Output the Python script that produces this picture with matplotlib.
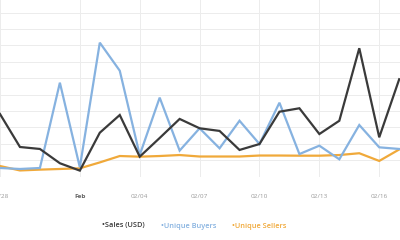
import matplotlib
matplotlib.use("Agg")
import matplotlib.pyplot as plt
import matplotlib.dates as mdates
import pandas as pd

plt.rcParams['font.family'] = ['Open Sans', 'DejaVu Sans']

dates = pd.date_range("2016-01-28", "2016-02-17", freq="D")
sales = [38.2, 18.1, 16.9, 8.2, 3.7, 26.8, 37.6, 12.2, 23.6, 35.2, 29.5,
         27.9, 16.3, 19.9, 39.6, 41.7, 26.0, 34.1, 78.3, 24.0, 59.4]
buyers = [5.3, 4.7, 5.3, 57.3, 5.7, 81.7, 64.6, 13.2, 48.2, 15.9, 29.5,
          17.3, 34.1, 19.9, 45.1, 13.8, 18.9, 10.6, 31.5, 17.9, 16.9]
sellers = [6.5, 3.8, 4.3, 4.7, 5.1, 8.7, 12.6, 12.2, 12.6, 13.2, 12.3,
           12.3, 12.3, 12.9, 12.9, 12.8, 12.8, 13.2, 14.3, 9.6, 16.6]
tick_dates = ["2016-01-28", "2016-02-01", "2016-02-04", "2016-02-07",
              "2016-02-10", "2016-02-13", "2016-02-16"]
tick_labels = ["01/28", "Feb", "02/04", "02/07", "02/10", "02/13", "02/16"]
series_names = ["Sales (USD)", "Unique Buyers", "Unique Sellers"]
colors = ["#3a3a3a", "#86b2e0", "#f0a93a"]

fig = plt.figure(figsize=(4.0, 2.4), dpi=100)
ax = fig.add_axes([0.0, 0.2638, 1.0, 0.7362])

x = mdates.date2num(dates)
feb1 = mdates.date2num(pd.Timestamp("2016-02-01"))
ax.set_xlim(feb1 - 3.716, feb1 + 16.04)
ax.set_ylim(0, 107.7)

for vals, c in zip([sellers, buyers, sales], [colors[2], colors[1], colors[0]]):
    ax.plot(x, vals, color=c, lw=1.6, solid_joinstyle='miter', zorder=3)

ax.set_yticks(range(0, 110, 10))
ax.set_xticks(mdates.date2num(pd.to_datetime(tick_dates)))
ax.set_xticklabels(tick_labels)
ax.grid(True, color="#ececec", lw=0.7, zorder=0)
ax.tick_params(axis='y', left=False, labelleft=False)
ax.tick_params(axis='x', length=0, pad=12.5, labelsize=4.6, labelcolor="#9a9a9a")
for lbl in ax.get_xticklabels():
    if lbl.get_text() == "Feb":
        lbl.set_fontweight("bold")
        lbl.set_color("#666666")
for s in ax.spines.values():
    s.set_visible(False)

legend_x = [102 / 400, 161 / 400, 232 / 400]
for name, c, lx in zip(series_names, colors, legend_x):
    fig.text(lx, 1 - 226 / 240, "\u2022" + name, color=c, fontsize=5.3,
             fontweight="semibold", va="center", ha="left")

fig.savefig("out.png", dpi=100)
